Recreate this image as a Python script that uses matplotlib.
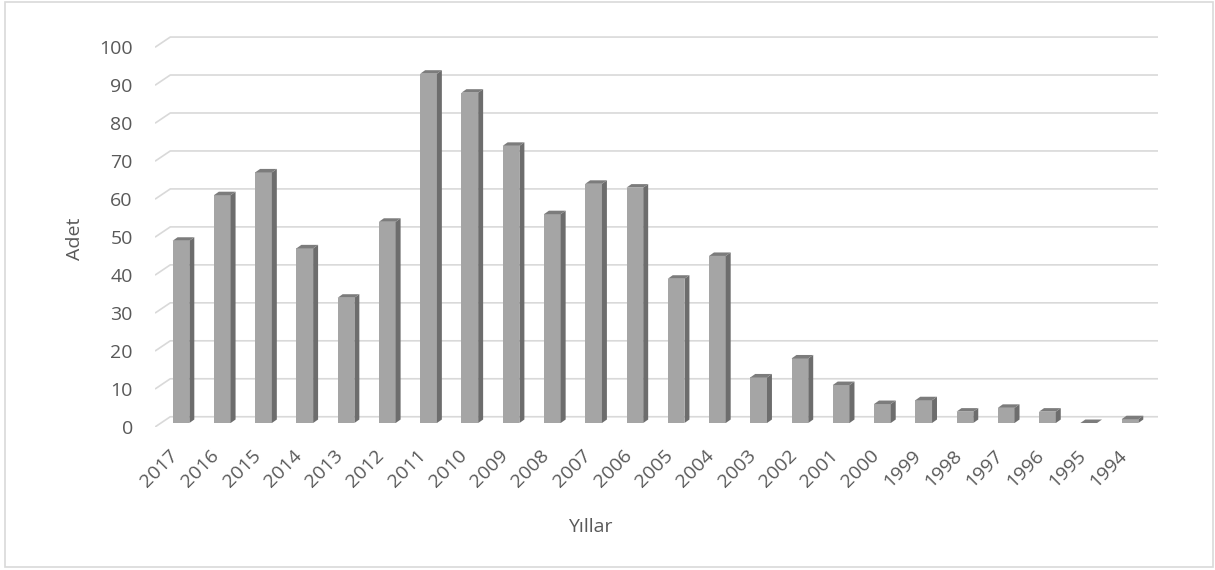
import numpy as np
import matplotlib.pyplot as plt
from matplotlib.patches import Polygon, Rectangle

plt.rcParams['font.family'] = ['Open Sans', 'DejaVu Sans']

years = ['2017', '2016', '2015', '2014', '2013', '2012', '2011', '2010',
         '2009', '2008', '2007', '2006', '2005', '2004', '2003', '2002',
         '2001', '2000', '1999', '1998', '1997', '1996', '1995', '1994']
counts = [48, 60, 66, 46, 33, 53, 92, 87, 73, 55, 63, 62, 38, 44, 12, 17,
          10, 5, 6, 3, 4, 3, 0, 1]
yticks = list(range(0, 101, 10))

# pseudo-3D look: floor/wall depth and bar depth in data units
wall_dx, wall_dy = 0.37, 2.7
bar_w = 0.405
bar_dx, bar_dy = 0.12, 0.92
lift = 1.05

front_c = '#a5a5a5'
side_c = '#6d6d6d'
top_c = '#7c7c7c'
grid_c = '#d9d9d9'
text_c = '#595959'

W, H = 1215, 570
fig = plt.figure(figsize=(W / 100, H / 100), dpi=100)
ax_left, ax_right, ax_bottom = 155, 1158, 427
ymax = 104
px_per_unit = 3.797
ax = fig.add_axes([ax_left / W, (H - ax_bottom) / H,
                   (ax_right - ax_left) / W, ymax * px_per_unit / H])
xpx0, xstep = 181, 41.26
ax.set_xlim((ax_left - xpx0) / xstep, (ax_right - xpx0) / xstep)
ax.set_ylim(0, ymax)

x = np.arange(len(years))
xl = ax.get_xlim()

# gridlines with the slanted floor edge on the left
for v in yticks:
    ax.plot([xl[0], xl[0] + wall_dx, xl[1]], [v, v + wall_dy, v + wall_dy],
            color=grid_c, lw=1.2, zorder=1, solid_capstyle='butt')

ax.bar(x, counts, width=bar_w, bottom=lift, color=front_c, zorder=3)
for xi, c in zip(x, counts):
    l, r = xi - bar_w / 2, xi + bar_w / 2
    t = lift + c
    side = Polygon([(r, lift), (r + bar_dx, lift + bar_dy),
                    (r + bar_dx, t + bar_dy), (r, t)],
                   closed=True, facecolor=side_c, edgecolor='none', zorder=3)
    top = Polygon([(l, t), (l + bar_dx, t + bar_dy),
                   (r + bar_dx, t + bar_dy), (r, t)],
                  closed=True, facecolor=top_c, edgecolor='none', zorder=3)
    ax.add_patch(side)
    ax.add_patch(top)

ax.set_yticks(yticks)
ax.set_yticklabels([str(v) for v in yticks], fontsize=14, color=text_c)
ax.set_xticks(x - 0.14)
ax.set_xticklabels(years, fontsize=14, color=text_c, rotation=45,
                   ha='right', va='center', rotation_mode='anchor')
ax.tick_params(axis='y', length=0, pad=16)
ax.tick_params(axis='x', length=0, pad=18.5)
for s in ax.spines.values():
    s.set_visible(False)
ax.patch.set_alpha(0)

fig.text(75 / W, 1 - 239 / H, 'Adet', rotation=90, fontsize=14,
         color=text_c, ha='center', va='center')
fig.text(590 / W, 1 - 527 / H, 'Yıllar', fontsize=14, color=text_c,
         ha='center', va='center')

# chart area border
fig.patches.append(Rectangle((4.5 / W, 1 - 567 / H), (1213 - 4.5) / W,
                             (567 - 1.5) / H, transform=fig.transFigure,
                             fill=False, edgecolor=grid_c, lw=1.2))

fig.savefig('out.png', dpi=100)
